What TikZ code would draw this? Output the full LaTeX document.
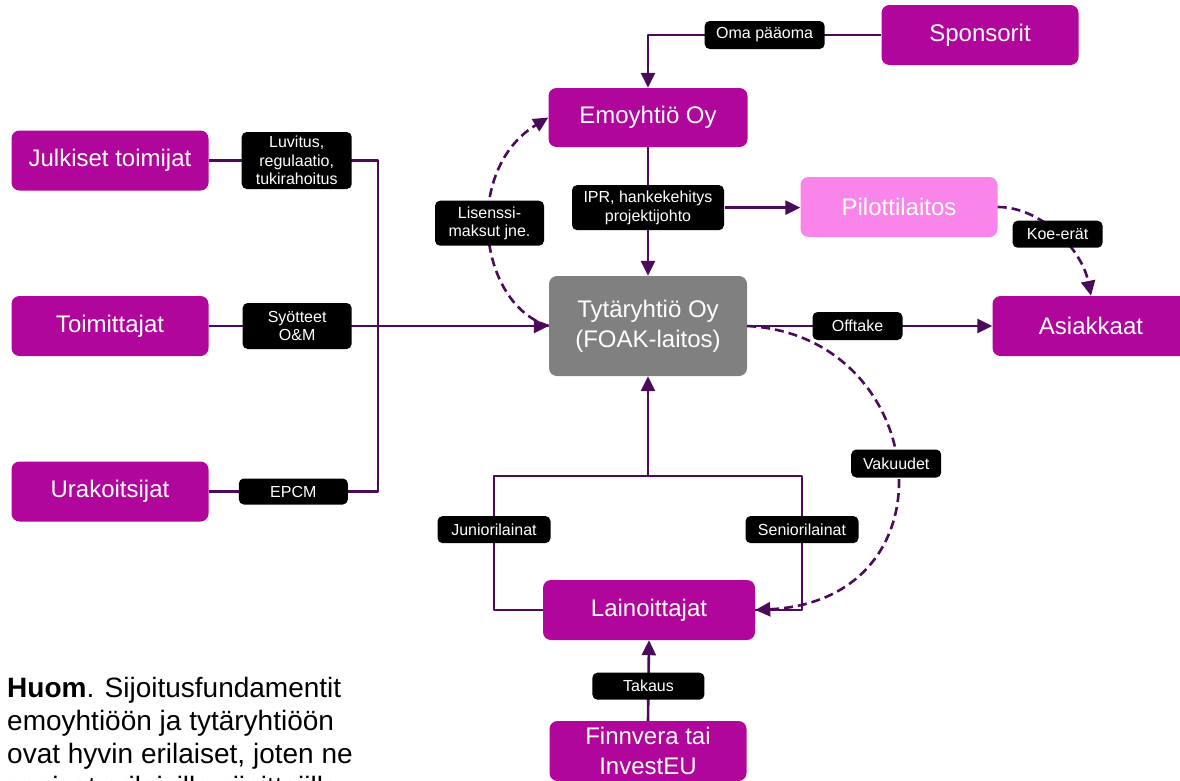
\documentclass[tikz,border=0pt]{standalone}
\usepackage{fontspec}
\setmainfont{Liberation Sans}
\usetikzlibrary{arrows.meta}

\definecolor{linepurple}{HTML}{4B0A5A}
\definecolor{orgmagenta}{HTML}{B1069B}
\definecolor{pilotpink}{HTML}{F985EA}
\definecolor{plantgray}{HTML}{808080}

\begin{document}
\begin{tikzpicture}[x=1pt,y=-1pt,line join=round,
  party/.style={rectangle,rounded corners=8pt,fill=orgmagenta,text=white,
    minimum width=197pt,minimum height=60pt,inner sep=0pt,align=center,
    font=\fontsize{24}{30}\selectfont},
  flowtag/.style={rectangle,rounded corners=5pt,fill=black,text=white,
    inner sep=2pt,align=center,minimum height=27pt,
    font=\fontsize{16}{18.5}\selectfont},
  flow/.style={draw=linepurple,line width=2.6pt},
  flowarrow/.style={flow,-{Triangle[length=15pt,width=14pt]}},
  flowdash/.style={flowarrow,dash pattern=on 9pt off 5pt}]
  % Match the slide frame, the note runs off the bottom edge.
  \useasboundingbox (0,0) rectangle (1180,780);

  % Parties around the plant.
  \node[party] (spons) at (980,35) {Sponsorit};
  \node[party,minimum width=199pt,minimum height=59pt] (emo) at (648,117.5) {Emoyhtiö Oy};
  \node[party] (julk) at (110,160.5) {Julkiset toimijat};
  \node[party] (toim) at (110,326) {Toimittajat};
  \node[party] (urak) at (110,491.5) {Urakoitsijat};
  \node[party,fill=pilotpink] (pilot) at (899,207) {Pilottilaitos};
  \node[party,fill=plantgray,minimum width=198pt,minimum height=100pt] (tyt) at (648,326) {Tytäryhtiö Oy\\(FOAK-laitos)};
  \node[party] (asiak) at (1091,326) {Asiakkaat};
  \node[party,minimum width=212pt] (lain) at (649,610) {Lainoittajat};
  \node[party] (finn) at (648,751) {Finnvera tai\\InvestEU};

  % Junction points of the bus lines.
  \coordinate (feed) at (378,326);
  \coordinate (jl) at (494,476);
  \coordinate (jr) at (802,476);
  \coordinate (loanjoin) at (648,476);

  % Equity from the sponsors.
  \draw[flowarrow] (spons.west) -| node[flowtag,pos=0.25,minimum width=120pt,minimum height=28pt] {Oma pääoma} (emo.north);

  % Stakeholders feed the plant.
  \draw[flow] (julk.east) -| node[flowtag,pos=0.26,minimum width=110pt,minimum height=57pt] {Luvitus,\\regulaatio,\\tukirahoitus} (feed);
  \draw[flow] (urak.east) -| node[flowtag,pos=0.25,minimum width=109pt,minimum height=26pt] {EPCM} (feed);
  \draw[flowarrow] (toim.east) -- node[flowtag,pos=0.26,minimum width=109pt,minimum height=46pt] {Syötteet\\O\&M} (tyt.west);

  % Parent company to plant and pilot.
  \draw[flowarrow] (emo.south) -- node[flowtag,pos=0.47,minimum width=152pt,minimum height=45pt] (ipr) {IPR, hankekehitys\\projektijohto} (tyt.north);
  \draw[flowarrow] (ipr.east) -- (ipr.east -| pilot.west);

  % Dashed flows go first so the tags cover them.
  \draw[flowdash] (tyt.west) .. controls (478,305) and (462,170) .. node[flowtag,pos=0.54,minimum width=109pt,minimum height=45pt] {Lisenssi-\\maksut jne.} (emo.west);
  \draw[flowdash] (pilot.east) .. controls (1042,207) and (1082,250) .. node[flowtag,pos=0.5,minimum width=90pt] {Koe-erät} (asiak.north);
  \draw[flowdash] (tyt.east) .. controls (930,335) and (960,600) .. node[flowtag,pos=0.49,minimum width=90pt,minimum height=28pt] {Vakuudet} (lain.east);

  % Offtake to customers.
  \draw[flowarrow] (tyt.east) -- node[flowtag,pos=0.45,minimum width=90pt,minimum height=28pt] {Offtake} (asiak.west);

  % Loans back up to the plant.
  \draw[flow] (lain.west) -| node[flowtag,pos=0.8,minimum width=113pt] {Juniorilainat} (jl) -- (jr) |- node[flowtag,pos=0.2,minimum width=113pt] {Seniorilainat} (lain.east);
  \draw[flowarrow] (loanjoin) -- (tyt.south);

  % Guarantee for the lenders.
  \draw[flowarrow] (finn.north) -- node[flowtag,pos=0.43,minimum width=112pt] {Takaus} (lain.south);

  % Side note, its last line is cut by the frame as on the slide.
  \node[anchor=north west,align=left,inner sep=0pt,font=\fontsize{28}{33}\selectfont] (note) at (7,677)
    {\textbf{Huom}. Sijoitusfundamentit\\emoyhtiöön ja tytäryhtiöön\\ovat hyvin erilaiset, joten ne\\sopivat erilaisille sijoittajille};
\end{tikzpicture}
\end{document}
